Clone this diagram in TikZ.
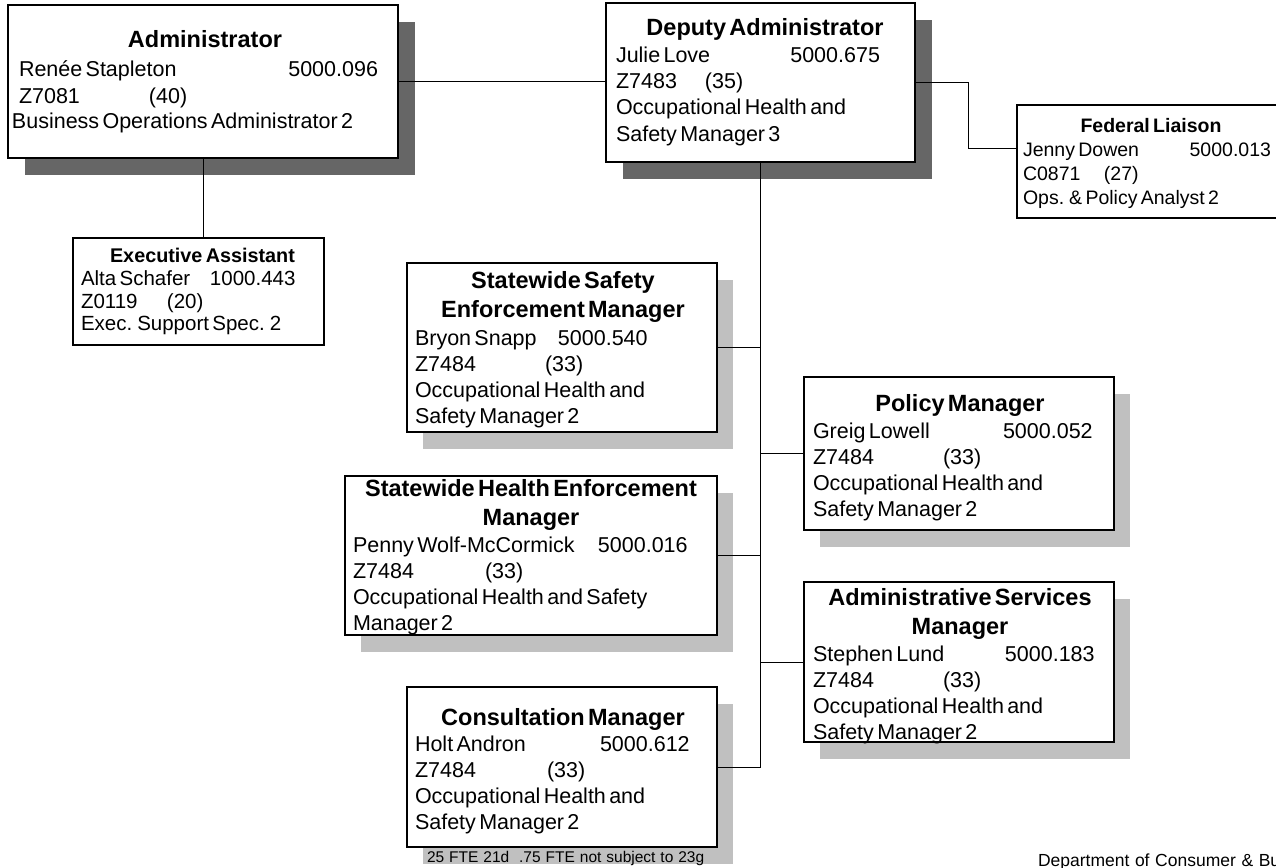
\documentclass[tikz,border=0pt]{standalone}
\usepackage{fontspec}
\setmainfont{Liberation Sans}[WordSpace=1.15]
\usetikzlibrary{shadows}
\definecolor{shadowdark}{HTML}{666666}
\definecolor{shadowlight}{HTML}{C0C0C0}
% type sizes used in the chart
\newcommand{\ttlfont}{\fontsize{23.5}{29}\selectfont\bfseries}
\newcommand{\bodyfont}{\fontsize{21.5}{26}\selectfont}
\newcommand{\smttl}{\fontsize{19.8}{24}\selectfont\bfseries}
\newcommand{\smbody}{\fontsize{20.5}{22.5}\selectfont}
\newcommand{\fedttl}{\fontsize{19.5}{24}\selectfont\bfseries}
\newcommand{\fedbody}{\fontsize{19.5}{24}\selectfont}
\newcommand{\col}[2]{\makebox[#1pt][l]{#2}}
\begin{document}
\begin{tikzpicture}[x=1pt,y=-1pt,
  box/.style={draw=black, line width=1.2pt, fill=white, anchor=north west,
              inner sep=0pt, outer sep=0pt},
  darkshadow/.style={drop shadow={shadow xshift=17pt, shadow yshift=-17pt,
              fill=shadowdark, opacity=1}},
  lightshadow/.style={drop shadow={shadow xshift=16pt, shadow yshift=-17pt,
              fill=shadowlight, opacity=1}},
  txt/.style={anchor=base west, inner sep=0pt, outer sep=0pt},
  link/.style={draw=black, line width=1pt}]

\useasboundingbox (0,0) rectangle (1276,867);
\clip (0,0) rectangle (1276,867);

% ---- boxes ----
\node[box, darkshadow,  minimum width=390pt, minimum height=153pt] (adm) at (8,5) {};
\node[box, darkshadow,  minimum width=309pt, minimum height=159pt] (dep) at (606,3) {};
\node[box,              minimum width=270pt, minimum height=113pt] (fed) at (1017,105) {};
\node[box,              minimum width=251pt, minimum height=107pt] (exa) at (73,238) {};
\node[box, lightshadow, minimum width=310pt, minimum height=169pt] (ssm) at (407,263) {};
\node[box, lightshadow, minimum width=310pt, minimum height=153pt] (pol) at (804,377) {};
\node[box, lightshadow, minimum width=372pt, minimum height=159pt] (shm) at (345,476) {};
\node[box, lightshadow, minimum width=310pt, minimum height=160pt] (asm) at (804,582) {};
\node[box, lightshadow, minimum width=310pt, minimum height=160pt] (con) at (407,687) {};

% ---- connectors ----
\draw[link] (adm.east) -- (adm.east -| dep.west);
\draw[link] (dep.east) -- ++(53,0) |- ([yshift=13.5pt]fed.west);
\draw[link] (adm.south) -- (adm.south |- exa.north);
\draw[link] (dep.south) -- (dep.south |- con.east);
\draw[link] (ssm.east) -- (ssm.east -| dep.south);
\draw[link] (shm.east) -- (shm.east -| dep.south);
\draw[link] (con.east) -- (con.east -| dep.south);
\draw[link] (pol.west) -- (pol.west -| dep.south);
\draw[link] (asm.west) -- (asm.west -| dep.south);

% ---- box texts ----
\node[txt, text width=386pt] (admtx) at (12,48) {%
  {\centering\ttlfont Administrator\par}\vspace{3pt}\bodyfont
  \hspace*{7pt}Renée Stapleton\hfill 5000.096\hspace*{20pt}\par
  \hspace*{7pt}\col{130}{Z7081}(40)\par
  Business Operations Administrator 2\par};

\node[txt, text width=298pt] (deptx) at (616,36) {%
  {\centering\ttlfont Deputy Administrator\par}\vspace{1pt}\bodyfont
  Julie Love\hfill 5000.675\hspace*{34pt}\par
  \col{89}{Z7483}(35)\par
  Occupational Health and\par
  Safety Manager 3\par};

\node[txt, text width=256pt] (fedtx) at (1023,132) {%
  {\centering\fedttl Federal Liaison\par}\fedbody
  Jenny Dowen\hfill 5000.013\hspace*{8pt}\par
  \col{81}{C0871}(27)\par
  Ops. \& Policy Analyst 2\par};

\node[txt, text width=243pt] (exatx) at (81,262) {%
  {\centering\smttl Executive Assistant\par}\vspace{1pt}\smbody
  \col{129}{Alta Schafer}1000.443\par
  \col{86}{Z0119}(20)\par
  Exec. Support Spec. 2\par};

\node[txt, text width=296pt] (ssmtx) at (415,288) {%
  {\centering\ttlfont Statewide Safety\par Enforcement Manager\par}\vspace{2pt}\bodyfont
  \col{143}{Bryon Snapp}5000.540\par
  \col{130}{Z7484}(33)\par
  Occupational Health and\par
  Safety Manager 2\par};

\node[txt, text width=294pt] (poltx) at (813,411) {%
  {\centering\ttlfont Policy Manager\par}\vspace{1pt}\bodyfont
  \col{190}{Greig Lowell}5000.052\par
  \col{130}{Z7484}(33)\par
  Occupational Health and\par
  Safety Manager 2\par};

\node[txt, text width=356pt] (shmtx) at (353,496) {%
  {\centering\ttlfont Statewide Health Enforcement\par Manager\par}\vspace{1pt}\bodyfont
  \col{245}{Penny Wolf-McCormick}5000.016\par
  \col{132}{Z7484}(33)\par
  Occupational Health and Safety\par
  Manager 2\par};

\node[txt, text width=294pt] (asmtx) at (813,605) {%
  {\centering\ttlfont Administrative Services\par Manager\par}\vspace{1pt}\bodyfont
  \col{192}{Stephen Lund}5000.183\par
  \col{130}{Z7484}(33)\par
  Occupational Health and\par
  Safety Manager 2\par};

\node[txt, text width=296pt] (contx) at (415,725) {%
  {\centering\ttlfont Consultation Manager\par}\bodyfont
  \col{185}{Holt Andron}5000.612\par
  \col{132}{Z7484}(33)\par
  Occupational Health and\par
  Safety Manager 2\par};

% ---- notes along the bottom edge ----
\node[txt, font=\fontsize{15.5}{18}\selectfont] (fte) at (427,862)
  {25 FTE 21d\ \ .75 FTE not subject to 23g};
\node[txt, font=\fontsize{17.5}{20}\selectfont] (dept) at (1038,866)
  {Department of Consumer \& Business Services};
\end{tikzpicture}
\end{document}
